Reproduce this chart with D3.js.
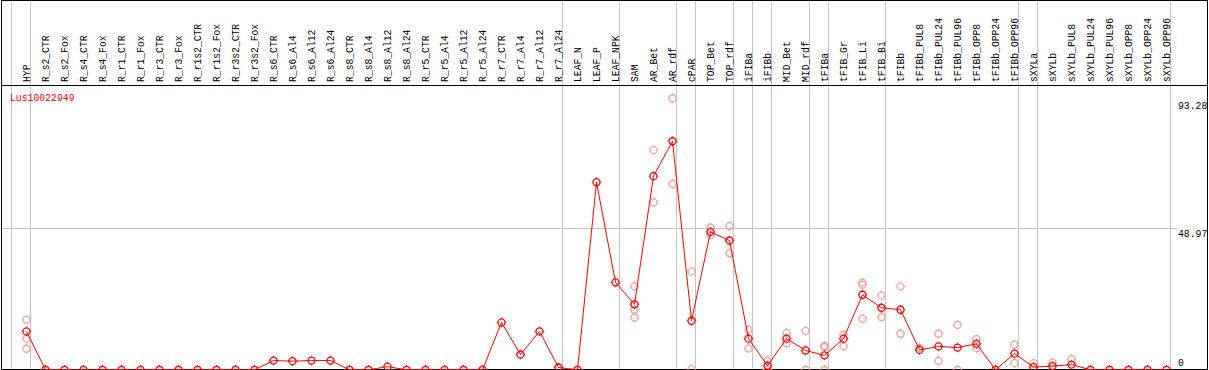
<!DOCTYPE html>
<html>
<head>
<meta charset="utf-8">
<script src="https://cdn.jsdelivr.net/npm/d3@7"></script>
<style>
    body { margin: 0; background: #fff; }
    svg { display: block; }
    text { font-family: "Liberation Mono", "DejaVu Sans Mono", monospace; }
</style>
</head>
<body>
<svg id="plot" width="1209" height="370"></svg>
<script>
const geneId = "Lus10022949";

const samples = [
    "HYP",
    "R_s2_CTR", "R_s2_Fox", "R_s4_CTR", "R_s4_Fox", "R_r1_CTR", "R_r1_Fox",
    "R_r3_CTR", "R_r3_Fox", "R_r1s2_CTR", "R_r1s2_Fox", "R_r3s2_CTR", "R_r3s2_Fox",
    "R_s6_CTR", "R_s6_Al4", "R_s6_Al12", "R_s6_Al24", "R_s8_CTR", "R_s8_Al4",
    "R_s8_Al12", "R_s8_Al24", "R_r5_CTR", "R_r5_Al4", "R_r5_Al12", "R_r5_Al24",
    "R_r7_CTR", "R_r7_Al4", "R_r7_Al12", "R_r7_Al24",
    "LEAF_N", "LEAF_P", "LEAF_NPK",
    "SAM", "AR_Bet", "AR_rdf", "cPAR", "TOP_Bet", "TOP_rdf", "iFIBa", "iFIBb",
    "MID_Bet", "MID_rdf", "tFIBa", "tFIB_Gr", "tFIB_Li", "tFIB_Bi",
    "tFIBb", "tFIBb_PUL8", "tFIBb_PUL24", "tFIBb_PUL96", "tFIBb_OPP8", "tFIBb_OPP24", "tFIBb_OPP96",
    "sXYLa", "sXYLb", "sXYLb_PUL8", "sXYLb_PUL24", "sXYLb_PUL96", "sXYLb_OPP8", "sXYLb_OPP24", "sXYLb_OPP96"
];

// mean expression per sample
const means = [
    13.3,
    0, 0, 0, 0, 0, 0, 0, 0, 0, 0, 0, 0,
    3.2, 3.0, 3.2, 3.2, 0, 0, 1.1, 0, 0, 0, 0, 0,
    16.4, 5.3, 13.3, 0.8,
    0, 65.0, 30.3,
    22.7, 67.1, 79.2, 17.0, 47.8, 44.8, 10.8, 1.4,
    10.8, 6.7, 5.0, 10.8, 26.0, 21.5,
    20.8, 6.9, 8.1, 7.7, 9.0, 0, 5.6,
    0.9, 1.3, 1.8, 0, 0, 0, 0, 0
];

// replicate values per sample (visible ones)
const replicates = [
    [17.4, 10.8, 7.3],
    [], [], [], [], [], [], [], [], [], [], [], [],
    [], [], [], [], [], [], [], [], [], [], [], [],
    [], [], [], [],
    [], [], [],
    [28.9, 20.9, 18.1], [76.1, 58.0], [94.1, 64.4], [34.1, 0.2], [49.3, 46.6], [49.8, 40.4], [13.9, 7.4], [3.2, 0],
    [12.7, 9.2], [13.5, 0], [7.9, 8.3, 0], [12.2, 8.2], [30.2, 29.5, 17.7], [25.7, 18.3],
    [28.9, 12.5], [7.6], [12.5, 3.1], [15.6, 0], [10.6, 7.5], [], [8.7, 2.3],
    [2.3], [2.5], [3.7], [], [], [], [], []
];

// first sample of each tissue group (gray separators)
const groupStarts = ["HYP", "R_s2_CTR", "LEAF_N", "SAM", "cPAR", "TOP_Bet", "iFIBa", "iFIBb",
    "MID_Bet", "tFIBa", "tFIB_Gr", "tFIBb", "sXYLa", "sXYLb"];

const yTicks = [0, 48.97, 93.28];
const yMax = 93.28;

const W = 1209, H = 370;
const headerY = 85.5;

const svg = d3.select("#plot");

const x = d3.scaleBand().domain(samples).range([11.5, 1170.5]);
const px = d => x(d) + 15;
const y = d3.scaleLinear().domain([0, yMax]).range([369.8, 100.6]);

// gridlines
svg.append("g")
    .selectAll("line")
    .data(groupStarts.map(s => x(s)).concat([x.range()[1]]))
    .join("line")
    .attr("x1", d => d).attr("x2", d => d)
    .attr("y1", 0).attr("y2", H)
    .attr("stroke", "#c4c4c4")
    .attr("stroke-width", 1);

svg.append("line")
    .attr("x1", 1).attr("x2", 1177)
    .attr("y1", Math.round(y(48.97)) + 0.5).attr("y2", Math.round(y(48.97)) + 0.5)
    .attr("stroke", "#c4c4c4");

// frame
svg.append("rect")
    .attr("x", 1.5).attr("y", 0.5)
    .attr("width", 1206).attr("height", 369)
    .attr("fill", "none")
    .attr("stroke", "#000");

svg.append("line")
    .attr("x1", 1).attr("x2", 1208)
    .attr("y1", headerY).attr("y2", headerY)
    .attr("stroke", "#000");

// sample labels (glyphs stretched a bit to mimic the bitmap font)
svg.append("g")
    .selectAll("text")
    .data(samples)
    .join("text")
    .attr("transform", d => `translate(${px(d) + 3},82) rotate(-90) scale(1,1.2)`)
    .style("font-size", "9.7px")
    .attr("fill", "#000")
    .text(d => d);

// y labels on the right
svg.append("g")
    .selectAll("text")
    .data(yTicks)
    .join("text")
    .attr("transform", d => `translate(1178,${d === 0 ? 365.5 : y(d) + 8.5}) scale(1,1.15)`)
    .style("font-size", "9.8px")
    .attr("fill", "#000")
    .text(d => d);

svg.append("text")
    .attr("transform", "translate(10,101) scale(1,1.15)")
    .style("font-size", "9.8px")
    .attr("fill", "#f00")
    .text(geneId);

const addMarker = (g, cx, cy, color) => {
    g.append("circle")
        .attr("cx", cx).attr("cy", cy).attr("r", 3.5)
        .attr("fill", "none")
        .attr("stroke", color)
        .attr("stroke-width", 1.3);
    [[0, -1], [0, 1], [-1, 0], [1, 0]].forEach(([dx, dy]) => {
        g.append("line")
            .attr("x1", cx + dx * 3.8).attr("y1", cy + dy * 3.8)
            .attr("x2", cx + dx * 4.8).attr("y2", cy + dy * 4.8)
            .attr("stroke", color)
            .attr("stroke-width", 1);
    });
};

// replicates
const repG = svg.append("g");
replicates.forEach((reps, i) => {
    reps.forEach(v => addMarker(repG, px(samples[i]), y(v), "#f0a0a0"));
});

// mean line
const line = d3.line()
    .x((d, i) => px(samples[i]))
    .y(d => y(d));

svg.append("path")
    .datum(means)
    .attr("fill", "none")
    .attr("stroke", "#f00")
    .attr("stroke-width", 1)
    .attr("d", line);

const meanG = svg.append("g");
means.forEach((v, i) => addMarker(meanG, px(samples[i]), y(v), "#f00"));
</script>
</body>
</html>
